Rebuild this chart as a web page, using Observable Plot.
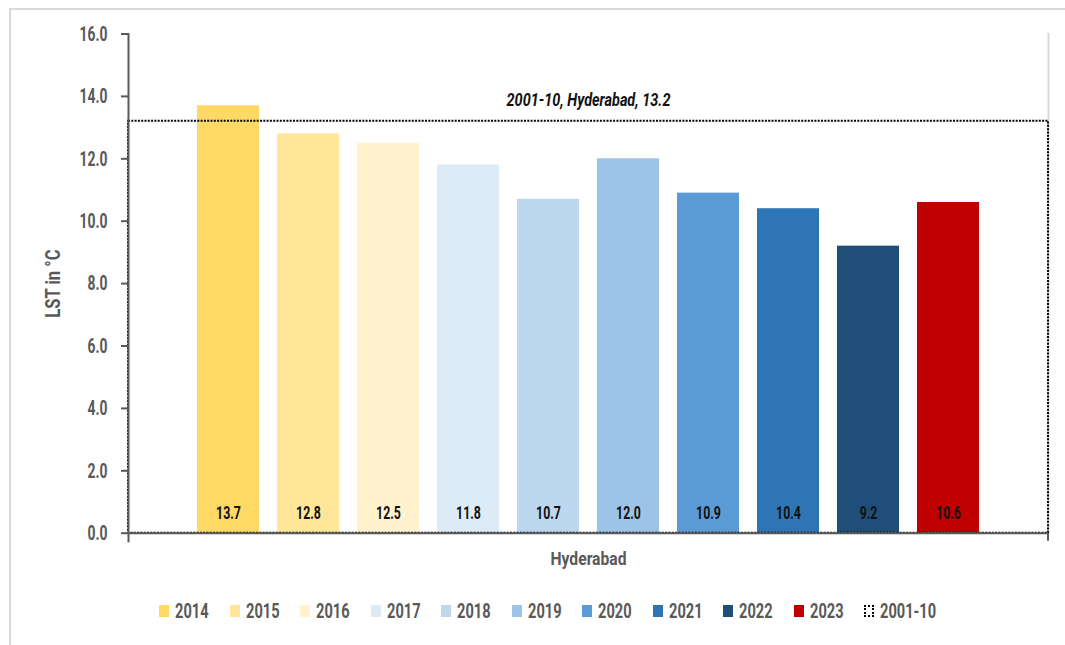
<!DOCTYPE html>
<html>
<head>
<meta charset="utf-8">
<script src="https://cdn.jsdelivr.net/npm/d3@7"></script>
<script src="https://cdn.jsdelivr.net/npm/@observablehq/plot@0.6"></script>
<style>
  html, body { margin: 0; padding: 0; background: #fff; overflow: hidden; }
  body { width: 1065px; height: 645px; position: relative; font-family: "Roboto", sans-serif; }
  #border { position: absolute; left: 9px; top: 8px; width: 1200px; height: 800px;
            border-left: 2px solid #d9d9d9; border-top: 2px solid #d9d9d9; box-sizing: border-box; }
  #chart { position: absolute; left: 0; top: 0; }
  #legend { position: absolute; left: 0; top: 599px; width: 1065px; display: flex; justify-content: center;
            font-weight: bold; font-size: 20px; color: #595959; padding-left: 52px; box-sizing: border-box; }
  .item { display: flex; align-items: center; margin-right: 21px; }
  .sw { width: 10px; height: 12px; margin-right: 6px; box-sizing: border-box; flex: none; }
  .lab { display: inline-block; white-space: nowrap; overflow: visible; }
  .lab span { display: inline-block; transform-origin: left center; white-space: nowrap; }
</style>
</head>
<body>
<div id="border"></div>
<div id="chart"></div>
<div id="legend"></div>
<script>
const years = ["2014", "2015", "2016", "2017", "2018", "2019", "2020", "2021", "2022", "2023"];
const values = [13.7, 12.8, 12.5, 11.8, 10.7, 12.0, 10.9, 10.4, 9.2, 10.6];
const colors = ["#FFD966", "#FFE699", "#FFF2CC", "#DDEBF7", "#BDD7EE", "#9DC3E6", "#5B9BD5", "#2E75B6", "#1F4E79", "#C00000"];
const baselineLabel = "2001-10";
const baselineValue = 13.2;
const city = "Hyderabad";
const yTicks = [0, 2, 4, 6, 8, 10, 12, 14, 16];
const yLabel = "LST in °C";

const data = years.map((year, i) => ({year, value: values[i]}));
const fontFamily = `"Roboto", sans-serif`;
const axisGray = "#595959";
// horizontal squeeze per text group, imitating the condensed typeface of the original
const squeeze = {
  "y-axis tick label": 0.66,
  "y-axis label": 0.79,
  "bar value": 0.65,
  "baseline note": 0.76,
  "category": 0.87
};
const legendSqueeze = 0.73;

const rightTick = (index, scales, values, dims) => {
  const x = dims.width - dims.marginRight;
  const y0 = scales.y(0);
  const g = d3.create("svg:g");
  g.append("line").attr("x1", x).attr("x2", x).attr("y1", y0).attr("y2", y0 + 8)
    .attr("stroke", axisGray).attr("stroke-width", 2);
  return g.node();
};

const chart = Plot.plot({
  width: 1065,
  height: 580,
  marginTop: 33.5,
  marginBottom: 47.3,
  marginLeft: 128,
  marginRight: 17,
  style: {fontFamily, fontWeight: "bold", color: axisGray, background: "transparent"},
  x: {domain: years, paddingInner: 0.225, paddingOuter: 0.8625, axis: null},
  y: {domain: [0, 16]},
  color: {domain: years, range: colors},
  marks: [
    Plot.frame({anchor: "right", stroke: "#d9d9d9", strokeWidth: 2}),
    Plot.barY(data, {x: "year", y: "value", fill: "year"}),
    Plot.rectY([{v: baselineValue}], {y: "v", fill: "none", stroke: "#000", strokeWidth: 2, strokeDasharray: "2 1.3"}),
    Plot.axisY({
      ticks: yTicks, tickFormat: d => d.toFixed(1), tickSize: 7, tickPadding: 14,
      fontSize: 21, stroke: axisGray, strokeWidth: 2, fill: axisGray,
      label: yLabel, labelAnchor: "center", labelOffset: 83, labelArrow: "none"
    }),
    Plot.frame({anchor: "left", stroke: axisGray, strokeWidth: 2, insetBottom: -8}),
    Plot.ruleY([0], {stroke: axisGray, strokeWidth: 2}),
    rightTick,
    Plot.text(data, {x: "year", y: 0, text: d => d.value.toFixed(1), dy: -20, fill: "#111", fontSize: 19, fontWeight: "bold", ariaLabel: () => "bar value"}),
    Plot.text([{v: baselineValue}], {y: "v", text: () => `${baselineLabel}, ${city}, ${baselineValue}`, dy: -21, fill: "#111", fontSize: 19, fontWeight: "bold", fontStyle: "italic", ariaLabel: () => "baseline note"}),
    Plot.text([city], {frameAnchor: "bottom", dy: 32, fontSize: 18, fill: axisGray, fontWeight: "bold", ariaLabel: () => "category"})
  ]
});
document.getElementById("chart").appendChild(chart);

function squeezeOf(el) {
  while (el && el.getAttribute) {
    const k = squeeze[el.getAttribute("aria-label")];
    if (k) return k;
    el = el.parentNode;
  }
  return null;
}
chart.querySelectorAll("text").forEach(t => {
  const k = squeezeOf(t);
  if (!k) return;
  const L = t.getComputedTextLength();
  if (L > 0) {
    t.setAttribute("textLength", (L * k).toFixed(2));
    t.setAttribute("lengthAdjust", "spacingAndGlyphs");
  }
});

const legend = document.getElementById("legend");
function addItem(label, swStyle) {
  const it = document.createElement("div"); it.className = "item";
  const sw = document.createElement("div"); sw.className = "sw"; Object.assign(sw.style, swStyle);
  const lab = document.createElement("div"); lab.className = "lab";
  const t = document.createElement("span"); t.textContent = label;
  lab.appendChild(t); it.appendChild(sw); it.appendChild(lab); legend.appendChild(it);
  const w = t.getBoundingClientRect().width;
  t.style.transform = `scaleX(${legendSqueeze})`;
  lab.style.width = (w * legendSqueeze) + "px";
}
years.forEach((y, i) => addItem(y, {background: colors[i]}));
addItem(baselineLabel, {border: "2px dotted #000"});
</script>
</body>
</html>
